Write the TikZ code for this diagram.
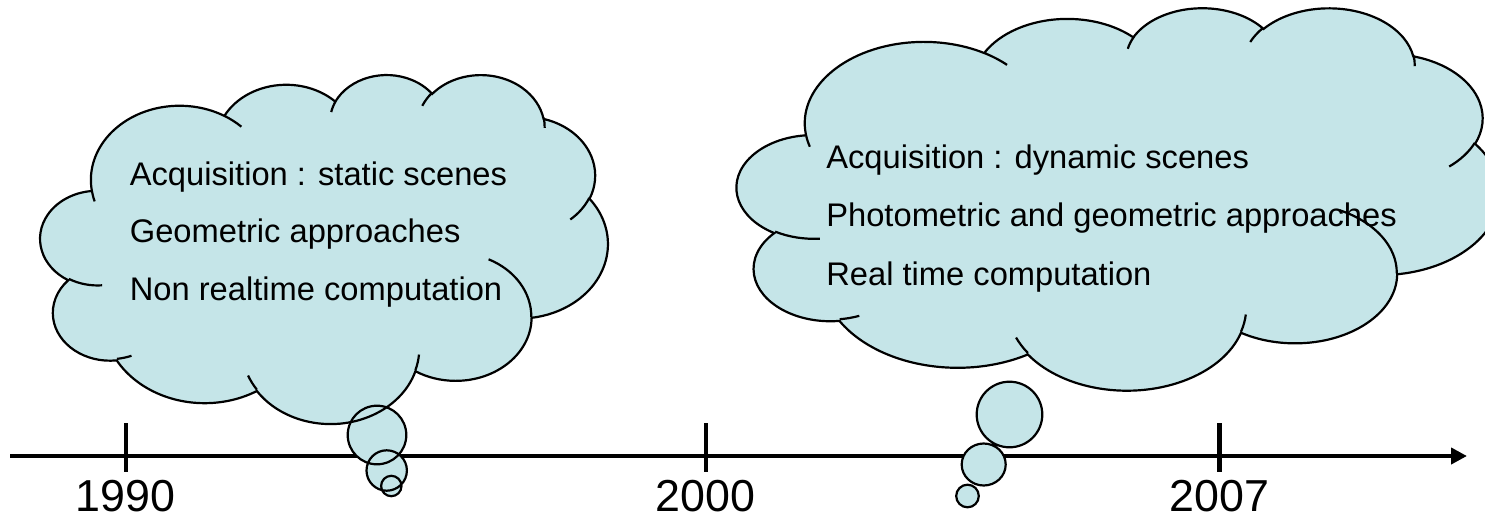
\documentclass[tikz,border=0pt]{standalone}
\usepackage{fontspec}
\setmainfont{Liberation Sans}
\usetikzlibrary{arrows.meta}

\definecolor{cloudblue}{RGB}{197,229,232}

\begin{document}
\begin{tikzpicture}[
	x=0.02cm, y=-0.02cm,
	bubble/.style={fill=cloudblue},
	rim/.style={draw=black, line width=1.25pt},
	timeline/.style={line width=2.5pt, -{Triangle[length=0.32cm, width=0.32cm]}},
	tick/.style={line width=2.5pt},
	year/.style={anchor=base, inner sep=0pt, text depth=0pt, font=\fontsize{25.5}{30}\selectfont},
	idea/.style={anchor=base west, inner sep=0pt, font=\fontsize{18.6}{22}\selectfont},
	% one bump of the cloud: x radius, y radius, start angle, sweep
	lobe/.style n args={4}{insert path={arc[x radius=#1, y radius=#2,
		start angle={atan2(#1*sin(#3),#2*cos(#3))},
		delta angle={mod(atan2(#1*sin(#3+#4),#2*cos(#3+#4))-atan2(#1*sin(#3),#2*cos(#3))+720,360)}]}},
	% cloud drawn in a 43.2 x 43.2 box
	cloud frame/.style n args={4}{shift={(#1,#2)}, xscale=#3/43.2, yscale=#4/43.2},
	cloud body/.style={insert path={(3.900,14.370)
		[lobe={6.753}{9.190}{-190.4875}{123.7805}]
		[lobe={5.333}{7.267}{-144.1024}{89.9452}]
		[lobe={4.365}{5.945}{-145.8079}{99.7230}]
		[lobe={4.857}{6.595}{-130.9861}{117.2417}]
		[lobe={5.333}{7.273}{-78.7089}{109.0269}]
		[lobe={6.775}{9.220}{-46.2673}{130.2690}]
		[lobe={5.785}{7.867}{0.6250}{114.0333}]
		[lobe={6.752}{9.215}{22.4516}{115.1726}]
		[lobe={7.720}{10.543}{66.2426}{75.7110}]
		[lobe={4.360}{5.918}{-274.9421}{146.7356}]
		[lobe={4.345}{5.945}{-246.8285}{152.5189}] -- cycle}},
	cloud folds/.style={insert path={
		(4.693,26.177) [lobe={4.345}{5.945}{86.7420}{26.4295}]
		(6.928,34.899) [lobe={4.360}{5.918}{73.6105}{11.4475}]
		(16.478,39.090) [lobe={6.752}{9.215}{137.6242}{14.0811}]
		(28.827,34.751) [lobe={6.752}{9.215}{6.4533}{15.9984}]
		(34.129,22.954) [lobe={5.785}{7.867}{-70.2924}{70.9174}]
		(41.798,15.354) [lobe={5.333}{7.273}{30.3180}{27.7515}]
		(38.324,5.426) [lobe={4.857}{6.595}{-13.7443}{14.8589}]
		(29.078,3.952) [lobe={4.857}{6.595}{-149.1815}{18.1954}]
		(22.141,4.720) [lobe={4.365}{5.945}{-163.4943}{17.6864}]
		(14.000,5.192) [lobe={6.753}{9.190}{-66.7070}{12.3194}]
		(4.127,15.789) [lobe={6.753}{9.190}{157.6544}{11.8582}]}},
	puffs/.style={insert path={
		(377,435) circle[radius=29.3] (386.7,470.5) circle[radius=20.2] (391.3,486) circle[radius=10.2]
		(1009.5,414.5) circle[radius=32.8] (983.7,464.5) ellipse[x radius=22, y radius=21]
		(967.5,496) circle[radius=11.3]}},
	]
	\useasboundingbox (0,0) rectangle (1485,521);

	% time axis
	\coordinate (t0) at (10,456);
	\coordinate (t1) at (1467,456);
	\draw[timeline] (t0) -- (t1);
	\foreach \yr/\x in {1990/125.7, 2000/705.7, 2007/1219.3} {
		\draw[tick] (\x,423) -- (\x,471.5);
		\node[year] (y\yr) at (\x,511) {\yr};
	}

	% clouds: fill everything first, then the outlines
	\fill[bubble, cloud frame={40.5}{73.9}{567.2}{348.9}, cloud body];
	\fill[bubble, cloud frame={737}{7}{762.5}{382.3}, cloud body];
	\fill[bubble, puffs];
	\draw[rim, cloud frame={40.5}{73.9}{567.2}{348.9}, cloud body, cloud folds];
	\draw[rim, cloud frame={737}{7}{762.5}{382.3}, cloud body, cloud folds];
	\draw[rim, puffs];

	\node[idea] (static) at (129.5,185) {Acquisition : static scenes};
	\node[idea] (geometric) at (129.5,242.7) {Geometric approaches};
	\node[idea] (offline) at (129.5,300.4) {Non realtime computation};
	\node[idea] (dynamic) at (826,168.3) {Acquisition : dynamic scenes};
	\node[idea] (photometric) at (826,226.7) {Photometric and geometric approaches};
	\node[idea] (realtime) at (826,285) {Real time computation};
\end{tikzpicture}
\end{document}
